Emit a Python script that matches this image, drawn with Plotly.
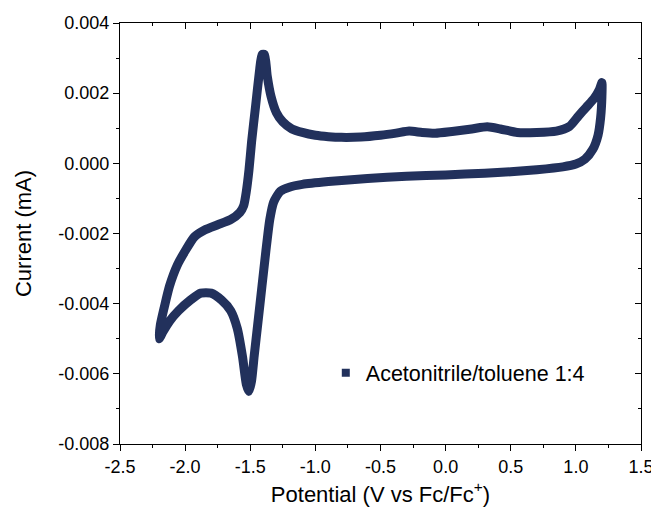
import plotly.graph_objects as go

# Cyclic voltammogram, acetonitrile/toluene 1:4 (forward scan then reverse scan)
potential_v = [
    -2.20, -2.19, -2.16, -2.12, -2.06, -2.00, -1.93, -1.85, -1.75, -1.65,
    -1.58, -1.55, -1.53, -1.51, -1.49, -1.46, -1.43, -1.41, -1.39, -1.37,
    -1.34, -1.30, -1.25, -1.18, -1.10, -1.00, -0.90, -0.80, -0.65, -0.50,
    -0.38, -0.28, -0.18, -0.08, 0.05, 0.20, 0.32, 0.42, 0.55, 0.70,
    0.85, 0.95, 1.02, 1.08, 1.14, 1.18, 1.20,
    1.20, 1.19, 1.17, 1.13, 1.07, 1.00, 0.90, 0.70, 0.50, 0.30,
    0.00, -0.30, -0.60, -0.90, -1.10, -1.20, -1.27, -1.32, -1.35, -1.38,
    -1.41, -1.44, -1.47, -1.49, -1.51, -1.53, -1.56, -1.60, -1.65, -1.72,
    -1.80, -1.88, -1.96, -2.05, -2.12, -2.17, -2.20,
]
current_ma = [
    -0.0050, -0.0046, -0.0041, -0.0035, -0.0029, -0.0025, -0.0021, -0.0019, -0.00175, -0.0016,
    -0.0014, -0.0012, -0.0008, -0.0002, 0.0006, 0.0016, 0.0026, 0.0031, 0.0031, 0.0025,
    0.0019, 0.00145, 0.00118, 0.00098, 0.00088, 0.00080, 0.00076, 0.00074, 0.00075, 0.00080,
    0.00086, 0.00092, 0.00088, 0.00086, 0.00091, 0.00098, 0.00104, 0.00098, 0.00088, 0.00088,
    0.00092, 0.00105, 0.00135, 0.00160, 0.00185, 0.0021, 0.0023,
    0.0019, 0.0013, 0.0008, 0.0004, 0.00012, -0.00002, -0.0001, -0.00018, -0.00024, -0.00028,
    -0.00033, -0.00037, -0.00043, -0.00052, -0.00060, -0.00068, -0.0008, -0.0011, -0.0016, -0.0025,
    -0.0035, -0.0045, -0.0055, -0.0062, -0.0065, -0.0063, -0.0055, -0.0047, -0.0042, -0.0039,
    -0.0037, -0.0037, -0.0039, -0.0042, -0.0045, -0.0048, -0.0050,
]

series_name = "Acetonitrile/toluene 1:4"
x_ticks = [-2.5, -2.0, -1.5, -1.0, -0.5, 0.0, 0.5, 1.0, 1.5]
y_ticks = [0.004, 0.002, 0.000, -0.002, -0.004, -0.006, -0.008]

navy = "#22315c"
font_family = "Liberation Sans, Arial, sans-serif"

fig = go.Figure()
fig.add_trace(go.Scatter(
    x=potential_v, y=current_ma, mode="lines",
    line=dict(color=navy, width=9, shape="spline", smoothing=0.6),
    showlegend=False, hoverinfo="skip",
))
# Legend entry shown as a square symbol
fig.add_trace(go.Scatter(
    x=[None], y=[None], mode="markers", name=series_name,
    marker=dict(symbol="square", size=8, color=navy),
))
# Carrier trace for the top/right frame axes
fig.add_trace(go.Scatter(
    x=[None], y=[None], xaxis="x2", yaxis="y2",
    showlegend=False, hoverinfo="skip",
))

axis_common = dict(
    showline=True, linecolor="black", linewidth=1.3,
    showgrid=False, zeroline=False, automargin=False,
    ticklen=6, tickwidth=1.2, tickcolor="black",
    tickfont=dict(family=font_family, size=18, color="black"),
)

fig.update_layout(
    width=651, height=513,
    margin=dict(l=120, r=10, t=23, b=69),
    paper_bgcolor="white", plot_bgcolor="white",
    font=dict(family=font_family, color="black"),
    xaxis=dict(
        range=[-2.5, 1.5], tickvals=x_ticks,
        ticktext=[f"{v:.1f}" for v in x_ticks],
        ticks="outside", ticklabeloverflow="allow",
        minor=dict(dtick=0.25, ticks="outside", ticklen=3, tickwidth=1.2, tickcolor="black"),
        title=dict(text="Potential (V vs Fc/Fc<sup>+</sup>)", font=dict(size=22), standoff=10),
        **axis_common,
    ),
    yaxis=dict(
        range=[-0.008, 0.004], tickvals=y_ticks,
        ticktext=[f"{v:.3f}" for v in y_ticks],
        ticks="outside", ticklabeloverflow="allow",
        minor=dict(dtick=0.001, ticks="outside", ticklen=3, tickwidth=1.2, tickcolor="black"),
        title=dict(text="Current (mA)", font=dict(size=22), standoff=20),
        **axis_common,
    ),
    xaxis2=dict(
        range=[-2.5, 1.5], overlaying="x", side="top", anchor="y2",
        tickvals=x_ticks, showticklabels=False, ticks="inside",
        minor=dict(dtick=0.25, ticks="inside", ticklen=3, tickwidth=1.2, tickcolor="black"),
        **axis_common,
    ),
    yaxis2=dict(
        range=[-0.008, 0.004], overlaying="y", side="right", anchor="x2",
        tickvals=y_ticks, showticklabels=False, ticks="inside",
        minor=dict(dtick=0.001, ticks="inside", ticklen=3, tickwidth=1.2, tickcolor="black"),
        **axis_common,
    ),
    legend=dict(
        x=0.395, y=0.169, xanchor="left", yanchor="middle",
        bgcolor="rgba(0,0,0,0)",
        font=dict(family=font_family, size=21.5, color="black"),
    ),
)

fig.write_html("out.html")
